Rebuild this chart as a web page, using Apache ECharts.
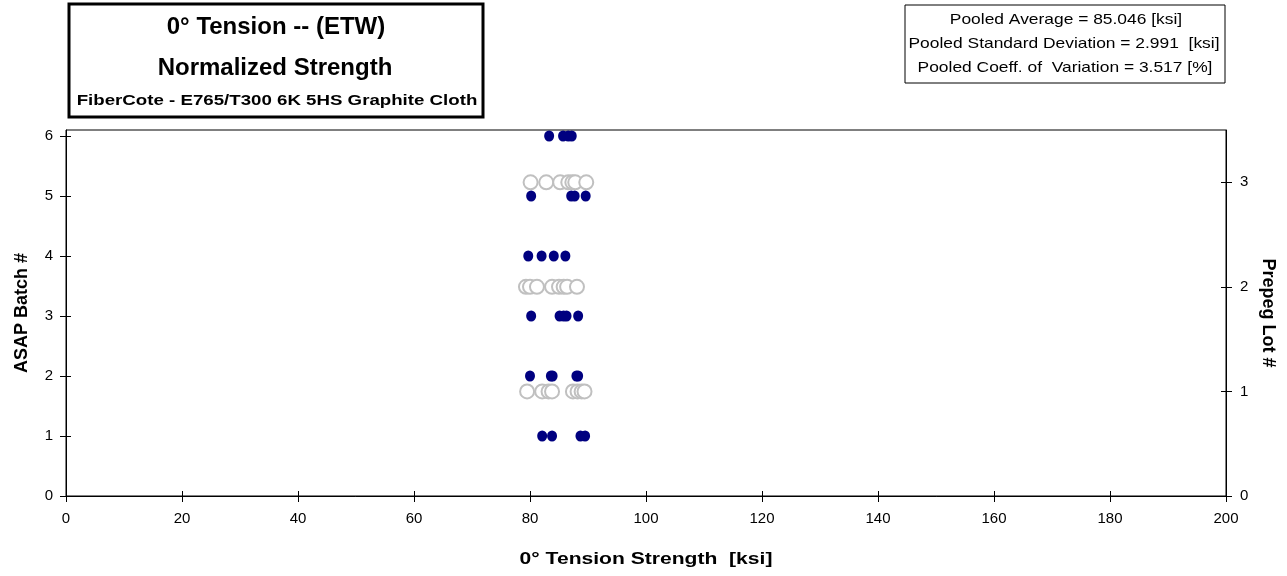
<!DOCTYPE html>
<html>
<head>
<meta charset="utf-8">
<script src="https://cdn.jsdelivr.net/npm/echarts@6/dist/echarts.min.js"></script>
<style>html,body{margin:0;padding:0;background:#fff}#c{width:1287px;height:576px}</style>
</head>
<body>
<div id="c"></div>
<script>
// ASAP batch data (left axis): strength [ksi] per batch
const batch1 = [82.1, 83.8, 88.7, 89.5];
const batch2 = [80.0, 83.6, 83.9, 88.0, 88.3];
const batch3 = [80.2, 85.1, 85.8, 86.3, 88.3];
const batch4 = [79.7, 82.0, 84.1, 86.1];
const batch5 = [80.2, 87.1, 87.7, 89.6];
const batch6 = [83.3, 85.7, 86.6, 87.2];
const batchValues = [batch1, batch2, batch3, batch4, batch5, batch6];
// Prepreg lot data (right axis)
const lot1 = [79.5, 82.1, 83.2, 83.8, 87.4, 88.2, 88.9, 89.4];
const lot2 = [79.3, 80.0, 81.2, 83.8, 85.0, 85.8, 86.4, 88.1];
const lot3 = [80.1, 82.8, 85.2, 86.6, 87.3, 87.8, 89.7];
const lotValues = [lot1, lot2, lot3];
const xTicks = [0, 20, 40, 60, 80, 100, 120, 140, 160, 180, 200];
const leftTicks = [0, 1, 2, 3, 4, 5, 6];
const rightTicks = [0, 1, 2, 3];
const titleLines = ['0° Tension -- (ETW)', 'Normalized Strength', 'FiberCote - E765/T300 6K 5HS Graphite Cloth'];
const statLines = ['Pooled Average = 85.046 [ksi]', 'Pooled Standard Deviation = 2.991  [ksi]', 'Pooled Coeff. of  Variation = 3.517 [%]'];
const xName = '0° Tension Strength  [ksi]';
const yLeftName = 'ASAP Batch #';
const yRightName = 'Prepeg Lot #';

const FONT = 'Liberation Sans, Arial, sans-serif';
const batchData = [];
batchValues.forEach((arr, i) => arr.forEach(v => batchData.push([v, i + 1])));
const lotData = [];
lotValues.forEach((arr, i) => arr.forEach(v => lotData.push([v, i + 1])));

const chart = echarts.init(document.getElementById('c'));
const lbl = {color: '#000', fontFamily: FONT, fontSize: 15};
function mainAxis(extra, ticks, margin) {
  return Object.assign({
    type: 'value',
    axisLine: {show: true, onZero: false, lineStyle: {color: '#000', width: 1}},
    axisTick: {show: true, length: 6, lineStyle: {color: '#000'}, customValues: ticks},
    axisLabel: Object.assign({}, lbl, {margin: margin, customValues: ticks}),
    splitLine: {show: false}
  }, extra);
}
function innerAxis(extra, ticks) {
  return Object.assign({
    type: 'value',
    axisLine: {show: false, onZero: false},
    axisTick: {show: true, inside: true, length: 5, lineStyle: {color: '#000'}, customValues: ticks},
    axisLabel: {show: false},
    splitLine: {show: false}
  }, extra);
}
chart.setOption({
  animation: false,
  backgroundColor: '#fff',
  grid: {left: 66, right: 61, top: 130, bottom: 80, show: true, borderColor: '#000', borderWidth: 1, backgroundColor: 'transparent'},
  xAxis: [
    mainAxis({min: 0, max: 200, position: 'bottom'}, xTicks, 15),
    innerAxis({min: 0, max: 200, position: 'bottom'}, xTicks)
  ],
  yAxis: [
    mainAxis({min: 0, max: 6.1, position: 'left',
      name: yLeftName, nameLocation: 'middle', nameGap: 35, nameRotate: 90,
      nameTextStyle: {fontFamily: FONT, fontSize: 18, fontWeight: 'bold', color: '#000'}}, leftTicks, 13),
    mainAxis({min: 0, max: 3.5, position: 'right',
      name: yRightName, nameLocation: 'middle', nameGap: 33, nameRotate: -90,
      nameTextStyle: {fontFamily: FONT, fontSize: 18, fontWeight: 'bold', color: '#000'}}, rightTicks, 14),
    innerAxis({min: 0, max: 6.1, position: 'left'}, leftTicks),
    innerAxis({min: 0, max: 3.5, position: 'right'}, rightTicks)
  ],
  series: [
    {type: 'scatter', yAxisIndex: 1, data: lotData, symbol: 'emptyCircle', symbolSize: 14,
     itemStyle: {color: '#c0c0c0', borderColor: '#c0c0c0', borderWidth: 1.5, opacity: 1}, z: 2},
    {type: 'scatter', yAxisIndex: 0, data: batchData, symbol: 'circle', symbolSize: [10, 11],
     itemStyle: {color: '#000080', opacity: 1}, z: 3}
  ],
  graphic: [
    {type: 'rect', shape: {x: 69, y: 4, width: 414, height: 113}, style: {fill: '#fff', stroke: '#000', lineWidth: 3}},
    {type: 'text', x: 276, y: 27, style: {text: titleLines[0], font: 'bold 24px ' + FONT, fill: '#000', textAlign: 'center', textVerticalAlign: 'middle'}},
    {type: 'text', x: 275, y: 68, style: {text: titleLines[1], font: 'bold 24px ' + FONT, fill: '#000', textAlign: 'center', textVerticalAlign: 'middle'}},
    {type: 'text', x: 277, y: 101, scaleX: 1.245, style: {text: titleLines[2], font: 'bold 15px ' + FONT, fill: '#000', textAlign: 'center', textVerticalAlign: 'middle'}},
    {type: 'rect', shape: {x: 905, y: 5, width: 320, height: 78}, style: {fill: '#fff', stroke: '#000', lineWidth: 1}},
    {type: 'text', x: 1066, y: 20, scaleX: 1.16, style: {text: statLines[0], font: '15px ' + FONT, fill: '#000', textAlign: 'center', textVerticalAlign: 'middle'}},
    {type: 'text', x: 1064, y: 44, scaleX: 1.16, style: {text: statLines[1], font: '15px ' + FONT, fill: '#000', textAlign: 'center', textVerticalAlign: 'middle'}},
    {type: 'text', x: 1065, y: 68, scaleX: 1.16, style: {text: statLines[2], font: '15px ' + FONT, fill: '#000', textAlign: 'center', textVerticalAlign: 'middle'}},
    {type: 'text', x: 646, y: 559, scaleX: 1.24, style: {text: xName, font: 'bold 17px ' + FONT, fill: '#000', textAlign: 'center', textVerticalAlign: 'middle'}}
  ]
});
</script>
</body>
</html>
